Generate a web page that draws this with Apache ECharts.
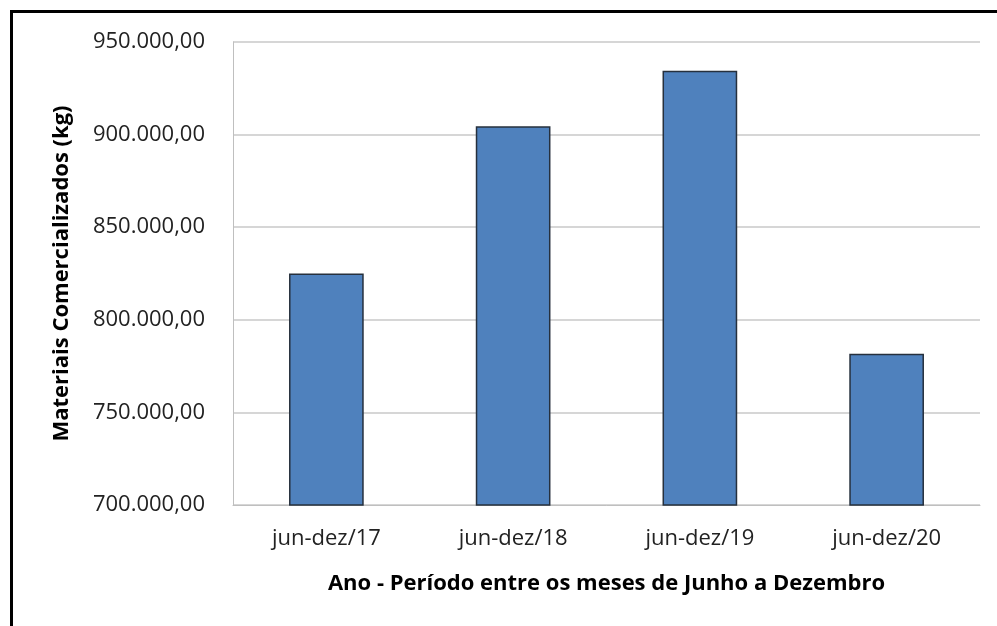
<!DOCTYPE html>
<html>
<head>
<meta charset="utf-8">
<script src="https://cdn.jsdelivr.net/npm/echarts@6/dist/echarts.min.js"></script>
<style>
  html, body { margin: 0; padding: 0; background: #fff; }
  #chart { width: 997px; height: 626px; }
</style>
</head>
<body>
<div id="chart"></div>
<script>
// dados do gráfico
var periodos = ['jun-dez/17', 'jun-dez/18', 'jun-dez/19', 'jun-dez/20'];
var materiais = [825000, 904500, 934500, 781700];
var eixoY = { min: 700000, max: 950000, passo: 50000 };

function formatBR(v) {
    var partes = v.toFixed(2).split('.');
    partes[0] = partes[0].replace(/\B(?=(\d{3})+(?!\d))/g, '.');
    return partes[0] + ',' + partes[1];
}

var myChart = echarts.init(document.getElementById('chart'));

myChart.setOption({
    animation: false,
    backgroundColor: '#fff',
    textStyle: { fontFamily: 'Open Sans' },
    grid: { left: 233, right: 17, top: 42, bottom: 121 },
    graphic: [
        {
            type: 'polyline',
            shape: { points: [[11.5, 626], [11.5, 11.5], [997, 11.5]] },
            style: { stroke: '#000', lineWidth: 3, fill: null }
        }
    ],
    xAxis: {
        type: 'category',
        data: periodos,
        name: 'Ano - Período entre os meses de Junho a Dezembro',
        nameLocation: 'middle',
        nameGap: 68,
        nameTextStyle: { fontSize: 22, fontWeight: 'bold', color: '#000' },
        axisLine: { lineStyle: { color: '#bfbfbf', width: 1 } },
        axisTick: { show: false },
        axisLabel: { fontSize: 22, color: '#222', margin: 23 }
    },
    yAxis: {
        type: 'value',
        min: eixoY.min,
        max: eixoY.max,
        interval: eixoY.passo,
        name: 'Materiais Comercializados (kg)',
        nameLocation: 'middle',
        nameGap: 160,
        nameTextStyle: { fontSize: 22, fontWeight: 'bold', color: '#000' },
        axisLine: { show: true, lineStyle: { color: '#bfbfbf', width: 1 } },
        axisTick: { show: false },
        axisLabel: { fontSize: 22, color: '#222', margin: 28, formatter: formatBR },
        splitLine: { lineStyle: { color: '#c8c8c8', width: 1.5 } }
    },
    series: [
        {
            name: 'Materiais',
            type: 'bar',
            data: materiais,
            barWidth: '40%',
            itemStyle: { color: '#4f81bd', borderColor: '#26303d', borderWidth: 1.5 }
        }
    ]
});
</script>
</body>
</html>
